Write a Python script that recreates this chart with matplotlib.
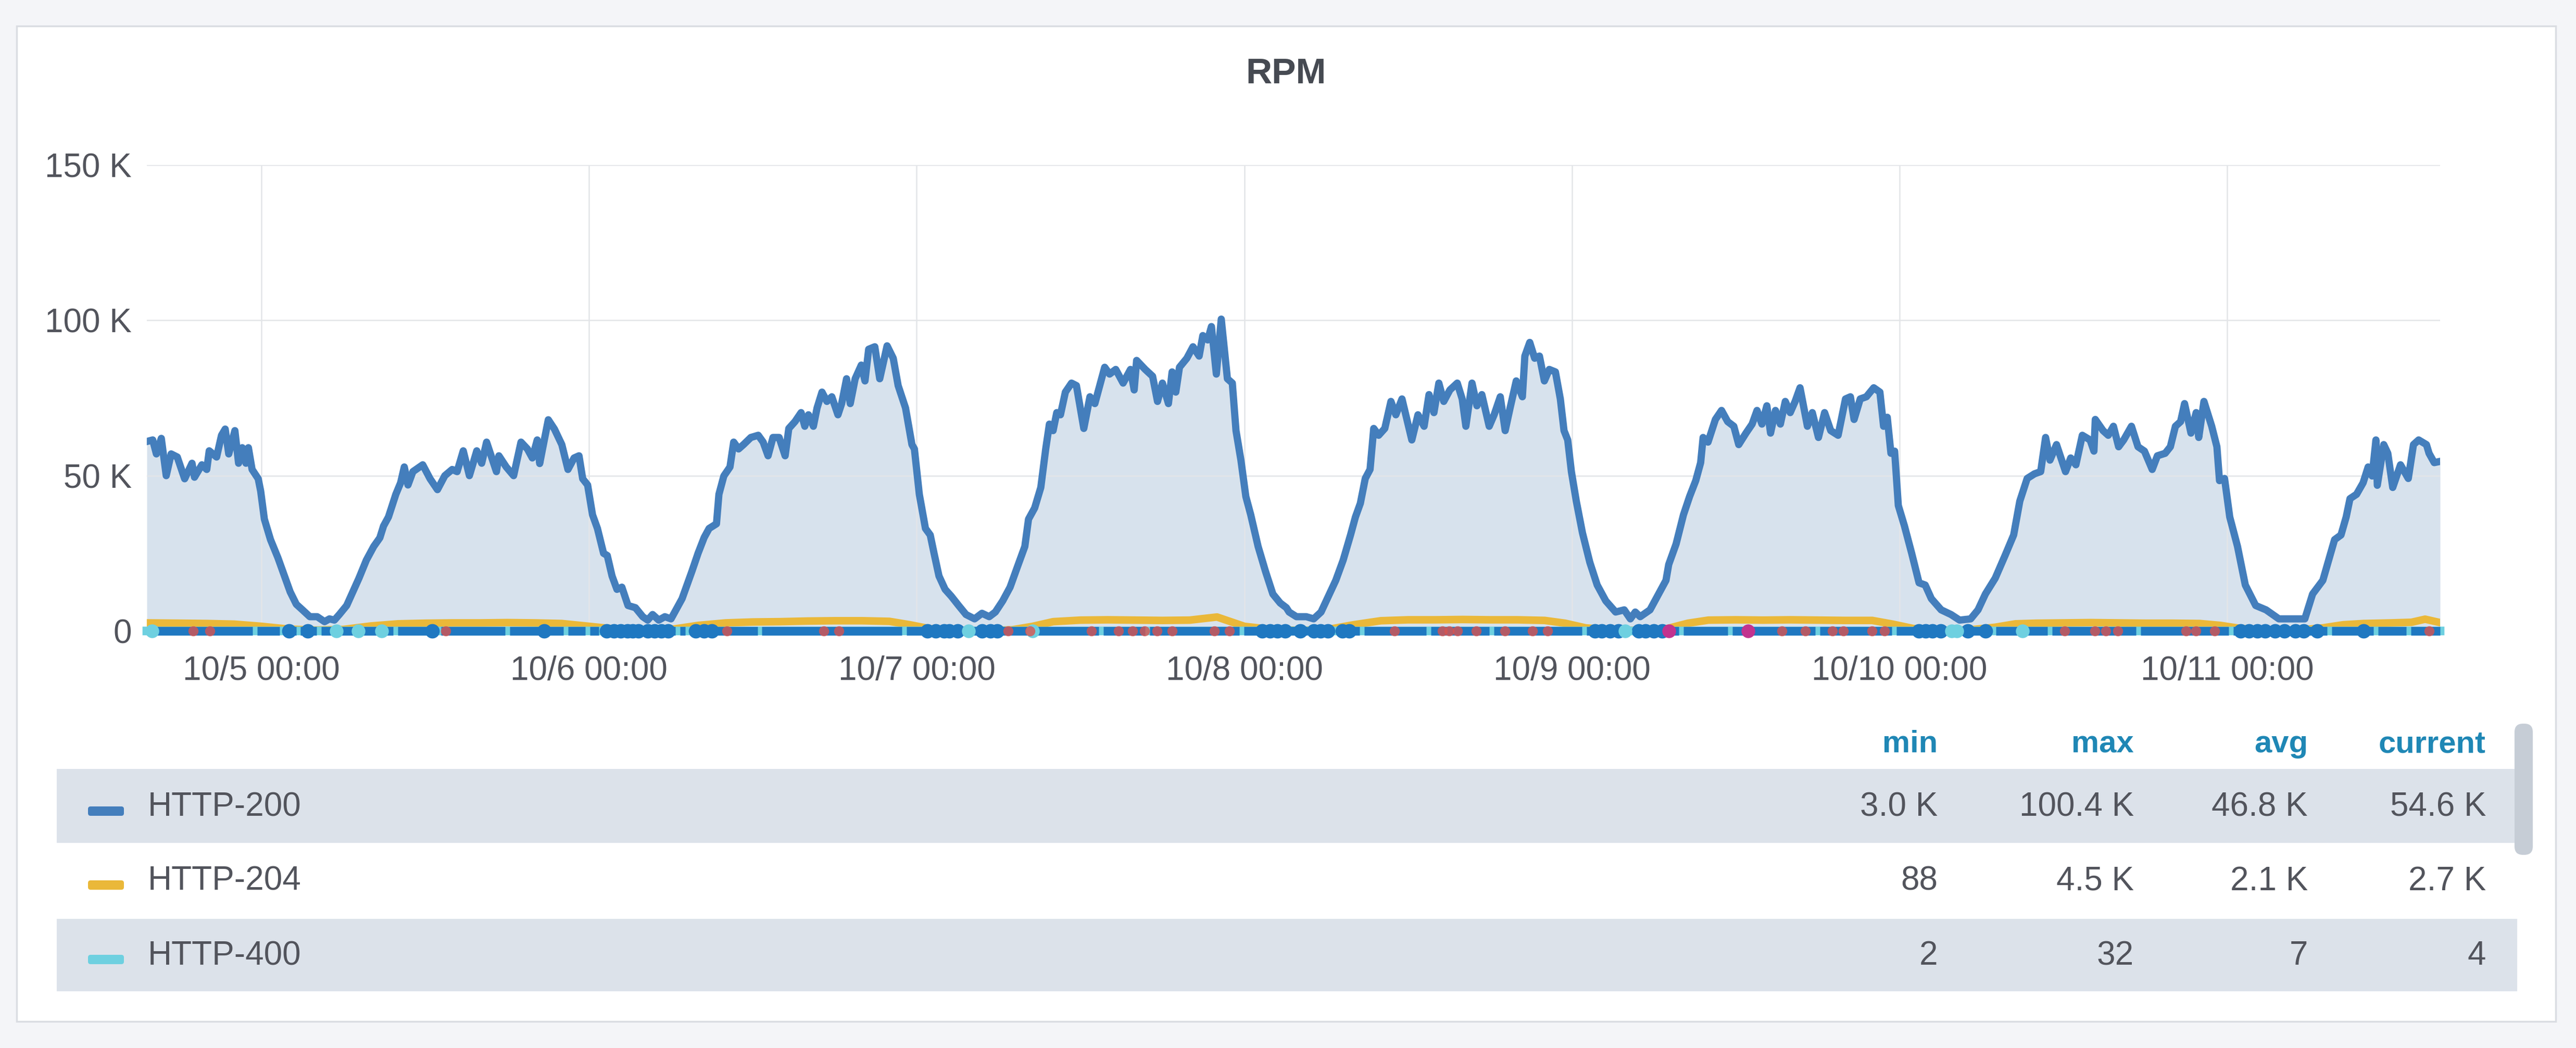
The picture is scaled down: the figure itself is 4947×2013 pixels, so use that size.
import numpy as np
import matplotlib
matplotlib.use("Agg")
import matplotlib.pyplot as plt
from matplotlib.patches import Rectangle, FancyBboxPatch
from matplotlib.transforms import Affine2D

plt.rcParams['font.family'] = ['Liberation Sans', 'DejaVu Sans']

# ---- data (hours since 10/5 00:00, values in K) ----
h200 = [-8.4, -7.97, -7.70, -7.34, -6.98, -6.62, -6.17, -5.63, -5.09, -4.91, -4.37, -4.01, -3.83, -3.29, -2.93,
        -2.66, -2.40, -1.95, -1.68, -1.41, -1.14, -0.96, -0.69, -0.24, -0.06, 0.21, 0.66, 1.20, 1.74, 2.10, 2.55,
        3.00, 3.54, 4.08, 4.62, 4.98, 5.34, 5.70, 6.24, 6.69, 7.14, 7.68, 8.22, 8.67, 8.94, 9.30, 9.84, 10.19,
        10.46, 10.73, 11.09, 11.81, 12.35, 12.89, 13.43, 13.97, 14.33, 14.78, 15.23, 15.77, 16.13, 16.49, 17.21,
        17.39, 17.93, 18.47, 19.01,
        19.48, 19.84, 20.20, 20.38, 20.65, 21.01, 21.46, 22.00, 22.45, 22.90, 23.26, 23.53, 23.89, 24.25, 24.61,
        25.06, 25.33, 25.68, 26.04, 26.40, 26.85, 27.39, 27.93, 28.29, 28.65, 29.10, 29.55, 30.00, 30.45, 30.81,
        31.17, 31.53, 31.98, 32.43, 32.79, 33.33, 33.51, 33.87, 34.32, 34.59, 34.95, 35.31, 35.85, 36.39, 36.75,
        37.11, 37.47, 37.92, 38.36, 38.63, 39.08, 39.53, 39.80, 40.07, 40.43, 40.70, 41.06, 41.42, 41.78, 42.23,
        42.50, 42.86, 43.13, 43.49, 43.94, 44.21, 44.48, 44.93, 45.29, 45.83, 46.28, 46.64, 47.18,
        47.65, 47.83, 48.19, 48.64, 48.99, 49.27, 49.63, 50.08, 50.53, 51.07, 51.61, 52.24, 52.78, 53.31, 53.76,
        54.30, 54.84, 55.38, 55.92, 56.19, 56.64, 57.09, 57.45, 57.72, 57.99, 58.26, 58.53, 58.89, 59.34, 59.70,
        60.24, 60.69, 61.05, 61.32, 61.77, 62.13, 62.58, 63.12, 63.66, 63.93, 64.11, 64.74, 65.28, 65.64, 66.00,
        66.44, 66.71, 66.98, 67.25, 67.79, 68.24, 68.69, 68.96, 69.32, 69.59, 69.95, 70.31, 70.76, 71.12, 71.39,
        71.75, 72.11, 72.47, 73.01, 73.55, 74.09, 74.63, 75.08,
        75.28, 75.82, 76.54, 77.08, 77.62, 78.16, 78.70, 79.24, 79.78, 80.14, 80.50, 80.86, 81.21, 81.48, 81.84,
        82.29, 82.74, 83.10, 83.55, 84.27, 84.72, 85.17, 85.53, 85.89, 86.25, 86.61, 87.06, 87.60, 87.96, 88.23,
        88.68, 89.04, 89.40, 89.94, 90.30, 90.75, 91.11, 91.47, 91.92, 92.37, 92.55, 92.91, 93.27, 93.62, 93.98,
        94.34, 94.79, 95.15, 95.42, 95.69, 95.96, 96.32, 96.77, 97.31, 97.85, 98.48, 99.20, 99.83, 100.28, 100.64,
        101.00, 101.72, 102.35,
        102.89, 103.09, 103.63, 104.17, 104.62, 105.07, 105.43, 105.61, 105.97, 106.51, 106.96, 107.41, 107.86,
        108.22, 108.75, 109.20, 109.56, 109.92, 110.28, 110.55, 110.91, 111.27, 111.63, 111.99, 112.35, 112.71,
        113.25, 113.61, 114.06, 114.51, 114.96, 115.50, 116.04, 116.40, 116.67, 117.12, 117.57, 118.11, 118.56,
        118.83, 119.10, 119.37, 119.64, 119.91, 120.36, 120.89, 121.43, 121.88, 122.33, 123.05, 123.77, 124.40,
        125.21, 125.75, 126.29, 127.01, 127.73, 128.36, 128.81, 129.35, 129.89, 130.34, 130.70,
        131.02, 131.50, 132.16, 132.54, 132.92, 133.39, 133.96, 134.24, 134.34, 134.91, 135.29, 135.67, 136.05,
        136.42, 136.99, 137.47, 137.94, 138.51, 138.89, 139.46, 139.84, 140.21, 140.59, 140.88, 141.35, 141.73,
        141.92, 142.30, 142.87, 143.25, 143.44, 143.81, 144.19, 144.76, 145.33, 146.09, 146.85, 147.79, 148.74,
        149.69, 150.26, 151.01, 151.39, 151.87, 152.34, 152.72, 153.00, 153.48, 153.96, 154.33, 154.62, 154.90,
        155.00, 155.47, 155.77, 156.13, 156.70, 157.27, 157.65, 158.03, 158.60, 158.79, 159.17, 159.6]
v200 = [61, 61.5, 57, 62, 50, 57, 56, 49, 54, 49.5, 53.5, 52, 58, 56, 63,
        65, 57, 64.5, 54, 59, 54, 59, 52, 49, 45, 36, 29.4, 23.6, 17, 12.6, 8.6,
        6.8, 4.6, 4.6, 3.0, 3.9, 3.5, 5.3, 8.2, 12.6, 17, 22.8, 27.2, 30, 33.8, 36.7, 44, 47.7,
        52.8, 47, 51.3, 53.5, 49, 45.5, 50, 52, 51.3, 58, 50, 58, 54, 60.8, 51.3,
        56.4, 52.8, 50, 60.8,
        58.6, 55.7, 61.5, 53.9, 60, 68, 65, 60, 52, 55.7, 56.4, 49, 47, 37.4, 33,
        25, 24.3, 17.7, 13.4, 14.1, 8.2, 7.5, 4.6, 3.5, 5.3, 3.5, 4.6, 3.9, 7.5, 10.4,
        14.8, 19.2, 25, 30.1, 33, 34.5, 44, 49.9, 52.8, 60.8, 58.6, 60, 62.3, 63, 60.8,
        56.4, 62.3, 62.3, 56.4, 65.2, 67.4, 70.3, 65.9, 69.6, 65.9, 71.8, 76.9, 73.9, 75.4, 69.6,
        73.2, 81.2, 73.2, 81.2, 85.6, 80.5, 90.7, 91.5, 81.2, 91.8, 87.8, 79, 71.8,
        60, 58.6, 44, 33, 30.9, 25, 17.7, 13.4, 11.2, 8.2, 5.3, 3.9, 5.7, 4.6, 6.1,
        9.7, 14.1, 20.7, 27.2, 36, 39.6, 46.2, 58.6, 66.6, 64.5, 70.3, 69.6, 76.9, 79.8, 79,
        65.2, 75.4, 73.2, 77.6, 84.9, 82.7, 84.2, 79.8, 84.2, 77.6, 87.1, 84.2, 82, 73.9, 79.8,
        73.2, 83.4, 76.9, 84.9, 87.8, 91.5, 88.5, 95.1, 93.7, 98, 82.7, 100.4, 81.2, 79.8, 64.5,
        55, 43.3, 37.4, 27.2, 19.2, 11.9, 9, 7.5,
        6.1, 4.6, 4.6, 3.9, 6.1, 11.2, 16.3, 22.8, 30.9, 36.7, 41.1, 49.1, 52, 65.2, 63,
        65.2, 73.9, 69.6, 74.7, 61.5, 69.6, 65.9, 76.1, 70.3, 79.8, 73.9, 77.6, 79.8, 74.7, 65.9,
        79.8, 72.5, 76.1, 65.9, 69.6, 75.4, 64.5, 71.8, 80.5, 75.4, 88.5, 92.9, 87.8, 88.5, 80.5,
        84.2, 83.4, 74.7, 64.5, 61.5, 51.3, 41.8, 31.6, 22.1, 14.8, 9.7, 6.1, 6.8, 3.9, 6.1,
        4.6, 6.8, 11.9,
        16.3, 21.4, 28, 37.4, 43.3, 48.4, 54.2, 62.3, 60.8, 68.1, 71, 67.4, 65.9,
        60, 63.7, 66.6, 71, 66.6, 72.5, 63.7, 71, 66.6, 73.9, 70.3, 73.9, 78.3,
        65.9, 70.3, 62.3, 70.3, 64.5, 63, 74.7, 75.4, 68.1, 74.7, 75.4, 78.3, 76.9,
        65.9, 68.8, 57.2, 57.9, 40.4, 33.8, 25, 15.5, 14.8, 10.4, 6.8, 5.3, 3.5,
        3.9, 6.8, 11.9, 17, 24.3, 30.9, 41.8, 49.1, 50.6, 51.3, 62.3,
        55, 60, 51.3, 55.7, 53.5, 63, 61.5, 57.9, 68.1, 64.5, 63, 65.9, 59.3,
        61.5, 65.9, 59.3, 57.9, 52, 56.4, 57.2, 59.3, 65.9, 67.4, 73.2, 63.7, 70.3,
        62.3, 73.9, 65.9, 59.3, 48.4, 49.1, 36.7, 27.2, 14.8, 8.2, 6.8, 3.9, 3.9,
        3.9, 11.9, 16.3, 22.1, 29.4, 30.9, 36.7, 42.6, 44, 47.7, 52.8, 49.9, 61.5,
        46.9, 60, 57.2, 46.2, 53.5, 49.1, 60, 61.5, 60, 57.2, 54.2, 54.6]

h204 = [-8.4, -6, -4, -2, 0, 2, 4, 6, 8, 10, 12, 14, 16, 18, 20, 22, 24, 26, 28, 30, 32, 34, 36, 38, 40, 42, 44,
        46, 47.5, 49, 51, 53, 55, 56.5, 58, 60, 62, 64, 66, 68, 70, 71, 72, 74, 76, 78, 80, 82, 84, 86, 88, 90,
        92, 94, 95.5, 97, 99, 101, 103, 104.5, 106, 108, 110, 112, 114, 116, 118, 119.5, 121, 123, 125, 127,
        128.5, 130, 132, 134, 136, 138, 140, 142, 143.5, 145, 147, 149, 151, 152.5, 154, 156, 157.5, 158.5, 159.6]
v204 = [2.6, 2.5, 2.4, 2.2, 1.5, 0.6, 0.3, 0.5, 1.6, 2.3, 2.5, 2.6, 2.6, 2.7, 2.6, 2.4, 1.5, 0.6, 0.2, 0.5, 1.8,
        2.6, 2.9, 3.0, 3.2, 3.3, 3.3, 3.1, 2.0, 0.7, 0.2, 0.088, 0.4, 1.5, 3.0, 3.5, 3.6, 3.5, 3.4, 3.5, 4.5, 3.0,
        1.5, 0.5, 0.2, 0.4, 2.0, 3.3, 3.6, 3.6, 3.7, 3.6, 3.6, 3.4, 2.5, 1.0, 0.3, 0.2, 0.8, 2.5, 3.5, 3.6, 3.5,
        3.6, 3.5, 3.4, 3.4, 2.2, 0.8, 0.2, 0.3, 1.2, 2.3, 2.5, 2.6, 2.7, 2.6, 2.5, 2.5, 2.4, 1.8, 0.8, 0.2, 0.2,
        1.0, 2.0, 2.4, 2.6, 2.8, 3.8, 2.7]

h400 = [-8.4, 0, 12, 24, 36, 48, 60, 72, 84, 96, 108, 120, 132, 144, 159.6]
v400 = [6, 12, 5, 9, 3, 32, 4, 11, 2, 8, 6, 10, 5, 7, 4]

# hidden series drawn along the zero line
other_gaps = [-8.0, -0.5, 1.5, 2.7, 4.2, 5.5, 7.1, 8.8, 9.8, 13.0, 18.0, 22.3, 23.9, 24.9, 27.9, 30.5, 31.2,
              36.5, 47.1, 51.8, 56.5, 61.5, 64.9, 71.8, 76.8, 78.6, 80.6, 85.5, 90.1, 96.9, 100.3, 104.0, 107.6,
              114.0, 119.6, 123.9, 126.9, 131.0, 137.5, 144.3, 148.6, 151.5, 154.9, 157.3]
blue_dots = [2.0, 3.4, 12.5, 20.7, 25.3, 25.8, 26.3, 26.8, 27.2, 27.6, 28.3, 28.8, 29.3, 29.8, 31.8, 32.4, 33.0,
             48.8, 49.4, 50.0, 50.4, 51.0, 52.8, 53.4, 53.9, 73.3, 73.9, 74.4, 75.0, 76.1, 77.1, 77.6, 78.1, 79.2,
             79.7, 97.7, 98.2, 98.8, 99.4, 100.9, 101.4, 102.0, 102.6, 121.4, 121.9, 122.4, 123.0, 125.0, 126.3,
             145.0, 145.6, 146.2, 146.8, 147.5, 148.2, 149.0, 149.6, 150.6, 154.0]
cyan_dots = [-8.0, 5.5, 7.1, 8.8, 51.8, 56.5, 99.9, 123.8, 124.2, 129.0]
red_dots = [-5.0, -3.8, 13.5, 34.1, 41.2, 42.3, 54.7, 56.3, 60.8, 62.8, 63.8, 64.7, 65.6, 66.7, 69.8, 70.9, 83.0,
            86.5, 87.0, 87.6, 89.0, 91.1, 93.1, 94.2, 111.4, 113.1, 115.1, 115.9, 118.0, 118.9, 132.1, 134.3,
            135.1, 136.0, 141.0, 141.7, 143.1, 158.8]
magenta_dots = [103.1, 108.9]

day_ticks = [0, 24, 48, 72, 96, 120, 144]
day_labels = ["10/5 00:00", "10/6 00:00", "10/7 00:00", "10/8 00:00", "10/9 00:00", "10/10 00:00", "10/11 00:00"]
y_ticks = [0, 50000, 100000, 150000]
y_labels = ["0", "50 K", "100 K", "150 K"]

series_names = ["HTTP-200", "HTTP-204", "HTTP-400"]
series_colors = ["#447ebc", "#eab839", "#6ed0e0"]
stat_headers = ["min", "max", "avg", "current"]
stat_min = ["3.0 K", "88", "2"]
stat_max = ["100.4 K", "4.5 K", "32"]
stat_avg = ["46.8 K", "2.1 K", "7"]
stat_cur = ["54.6 K", "2.7 K", "4"]

# ---- figure ----
W, H = 4947, 2013
fig = plt.figure(figsize=(W / 100, H / 100), dpi=100)
fig.patch.set_facecolor("#f4f5f8")
# pixel coords, origin top-left
px = Affine2D().scale(0.01, -0.01).translate(0, H * 0.01) + fig.dpi_scale_trans

def box(x0, y0, x1, y1, **kw):
    fig.patches.append(Rectangle((x0, y0), x1 - x0, y1 - y0, transform=px, **kw))

box(32, 50, 4908, 1962, facecolor="white", edgecolor="#dadde2", lw=2.5, zorder=-10)

fig.text(2470, 142, "RPM", transform=px, ha="center", va="center", fontsize=50,
         fontweight="bold", color="#464a52")

base = np.datetime64("2018-10-05T00:00")
def to_time(h):
    return base + (np.asarray(h, float) * 3600).astype("timedelta64[s]")

ax = fig.add_axes([282 / W, 1 - 1212 / H, (4686 - 282) / W, (1212 - 317) / H])
ax.patch.set_alpha(0)

t200 = to_time(h200)
y200 = np.array(v200) * 1000
ax.fill_between(t200, 0, y200, color="#3a6ea5", alpha=0.2, lw=0, zorder=1)
ax.plot(t200, y200, color=series_colors[0], lw=10, zorder=4, solid_joinstyle="round")
ax.plot(to_time(h204), np.array(v204) * 1000, color=series_colors[1], lw=10.5, zorder=3)
ax.plot(to_time(h400), v400, color=series_colors[2], lw=12, zorder=5, clip_on=False)

edges = [-8.4] + other_gaps + [159.6]
for a, b in zip(edges[:-1], edges[1:]):
    a0 = a + 0.17 if a > -8.4 else a
    b0 = b - 0.17 if b < 159.6 else b
    ax.plot(to_time([a0, b0]), [0, 0], color="#1f78c1", lw=12, solid_capstyle="butt", zorder=6, clip_on=False)

ax.plot(to_time(blue_dots), np.zeros(len(blue_dots)), "o", color="#1f78c1", ms=20, mew=0, zorder=7, clip_on=False)
ax.plot(to_time(cyan_dots), np.zeros(len(cyan_dots)), "o", color="#6ed0e0", ms=19, mew=0, zorder=7, clip_on=False)
ax.plot(to_time(red_dots), np.zeros(len(red_dots)), "o", color="#d9534f", ms=14, mew=0, alpha=0.8, zorder=7, clip_on=False)
ax.plot(to_time(magenta_dots), np.zeros(len(magenta_dots)), "o", color="#c2338f", ms=19, mew=0, zorder=7, clip_on=False)

ax.set_xlim(to_time(-8.4), to_time(159.6))
ax.set_ylim(0, 150000)
ax.set_xticks(to_time(day_ticks))
ax.set_xticklabels(day_labels)
ax.set_yticks(y_ticks)
ax.set_yticklabels(y_labels)
ax.set_axisbelow("line")
ax.grid(True, color="#e3e5e8", lw=1.8)
ax.tick_params(axis="both", length=0, labelsize=46, labelcolor="#52545c")
ax.tick_params(axis="x", pad=34)
ax.tick_params(axis="y", pad=21)
for s in ax.spines.values():
    s.set_visible(False)

# ---- legend table ----
box(109, 1477, 4834, 1619, facecolor="#dce2ea", lw=0, zorder=-5)
box(109, 1765, 4834, 1904, facecolor="#dce2ea", lw=0, zorder=-5)
fig.patches.append(FancyBboxPatch((4829, 1390), 35, 252, boxstyle="round,pad=0,rounding_size=16",
                                  transform=px, facecolor="#c6cdd6", lw=0, zorder=-4))

col_right = [3721, 4098, 4432, 4774]
for x, hd in zip(col_right, stat_headers):
    fig.text(x, 1445, hd, transform=px, ha="right", va="baseline", fontsize=43,
             fontweight="bold", color="#1f87b5")

row_base = [1568, 1710, 1853]
for i, name in enumerate(series_names):
    yb = row_base[i]
    fig.patches.append(FancyBboxPatch((169, yb - 19), 69, 18, boxstyle="round,pad=0,rounding_size=5",
                                      transform=px, facecolor=series_colors[i], lw=0, zorder=-3))
    fig.text(284, yb, name, transform=px, ha="left", va="baseline", fontsize=46, color="#52545c")
    for x, vals in zip(col_right, [stat_min, stat_max, stat_avg, stat_cur]):
        fig.text(x, yb, vals[i], transform=px, ha="right", va="baseline", fontsize=46, color="#52545c")

fig.savefig("out.png", dpi=100, facecolor=fig.get_facecolor())
